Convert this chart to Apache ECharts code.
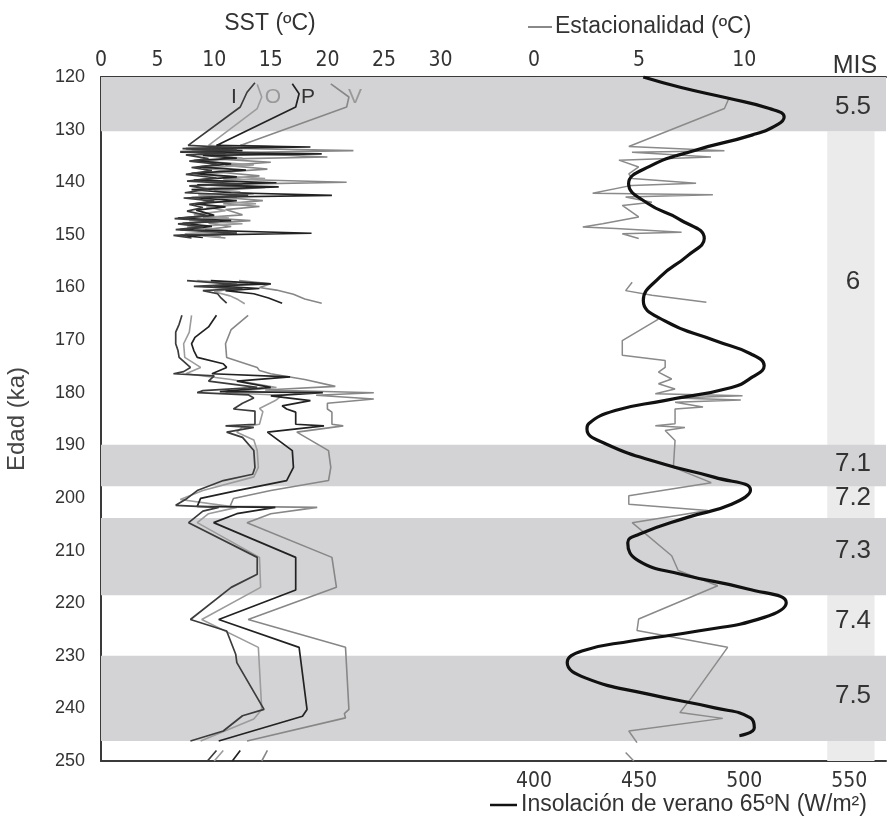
<!DOCTYPE html>
<html>
<head>
<meta charset="utf-8">
<script src="https://cdn.jsdelivr.net/npm/echarts@6/dist/echarts.min.js"></script>
<style>
  html, body { margin: 0; padding: 0; background: #fff; }
  #chart { width: 889px; height: 821px; }
</style>
</head>
<body>
<div id="chart"></div>
<script>
// 数据: [edad ka, valor], null = corte de la serie
var ageTicks = [120, 130, 140, 150, 160, 170, 180, 190, 200, 210, 220, 230, 240, 250]

var sstI = [
  [121.1, 13.6], [122.9, 12.9], [125.7, 12.3], [133.0, 7.7], [133.4, 11.5], [133.6, 7.2], [133.9, 12], [134.2, 7.0],
  [134.5, 11], [134.8, 7.5], [135.5, 9.5], [136.0, 7.8], [136.6, 10.5], [137.2, 8.0], [137.8, 9.8], [138.5, 7.5],
  [139.2, 10.2], [139.8, 7.6], [140.3, 12.5], [140.7, 7.8], [141.3, 9.5], [142.0, 7.4], [142.5, 13.0], [143.0, 7.3],
  [143.6, 10.0], [144.2, 7.8], [144.8, 9.0], [145.5, 7.6], [146.4, 9.5], [146.9, 6.5], [147.4, 10.5], [147.9, 6.8],
  [148.5, 9.0], [149.0, 6.6], [149.7, 12.0], [150.1, 6.4], [150.6, 8.0],
  null,
  [158.7, 7.6], [159.4, 12], [159.8, 8.2], [160.2, 12.5], [160.6, 9], [161.2, 10.3], [162, 10.6], [163, 11.1],
  null,
  [165.3, 7.15], [167, 6.9], [168.5, 6.6], [170.7, 6.6], [172, 6.8], [173.3, 6.9], [175.2, 7.9], [176.0, 7.3],
  [176.4, 6.4], [176.8, 10], [177.8, 9.5], [179, 13.8], [179.6, 9], [180.0, 8.5], [180.4, 13.0], [181.0, 13.5],
  [182, 12.5], [183.1, 11.7], [183.5, 13.6], [186, 13.6], [186.3, 11], [186.6, 13.5], [187.5, 11.1], [188.5, 12.5],
  [191, 13.5], [194.2, 13.6], [195.5, 13.4], [196.7, 10.8], [198.6, 8.5], [200.1, 7.6], [201.4, 6.6], [201.8, 10.4],
  [202.5, 9], [204.7, 7.74], [211.3, 13.8], [214.5, 13.8], [217, 11.5], [223.1, 7.9], [225.3, 11.1], [229.7, 11.9],
  [231.3, 12.0], [240.2, 14.4], [241.4, 12.5], [244.3, 10.8], [246.2, 7.9],
  null,
  [248, 10.2], [250, 9.4]
]

var sstO = [
  [121.4, 13.8], [123.8, 14.2], [126, 13.8], [133, 9.5], [133.5, 13], [133.8, 8], [134.3, 14], [134.7, 8.5],
  [135.4, 12.5], [136, 9], [136.7, 13.5], [137.3, 9], [138, 11.5], [138.6, 8.8], [139.3, 14.5], [139.9, 9.2],
  [140.6, 13], [141.2, 9], [141.8, 12.3], [142.4, 8.6], [142.9, 12], [143.5, 9], [144.1, 13.7], [144.7, 9.3],
  [145.4, 11], [146.2, 8.2], [146.8, 11.3], [147.3, 7.8], [147.9, 12.5], [148.5, 7.6], [149.2, 11.2], [149.8, 7.4],
  [150.4, 10.6],
  null,
  [158.7, 8.5], [159.3, 13], [159.8, 9], [160.3, 11.5], [160.8, 10], [161.6, 11.4], [162.3, 12.1], [163.1, 12.7],
  null,
  [165.3, 8.0], [168.5, 7.8], [170.7, 7.3], [173.3, 7.4], [175.2, 8.8], [176.4, 7.5], [177.5, 11.5], [179, 15.5],
  [180, 11], [180.5, 16], [181.5, 15.4], [183, 14], [183.6, 14.3], [186, 14.0], [186.5, 12.5], [187.5, 12],
  [189, 13.5], [191, 13.8], [194.2, 13.9], [196, 13.5], [198.6, 9], [200.3, 7.0], [201.8, 12.0], [203, 9.5],
  [204.7, 8.5], [211.3, 14.0], [217, 14.1], [223.1, 8.9], [228.4, 13.9], [240.2, 14.2], [242, 13.5], [246.2, 8.8],
  null,
  [248, 10.8], [250, 10.0]
]

var sstP = [
  [121.3, 16.9], [123.2, 17.5], [125.7, 17.2], [133, 10.2], [133.3, 18.5], [133.6, 7.5], [134.0, 12.5], [134.3, 7.0],
  [134.6, 19.5], [134.9, 9], [135.4, 12], [135.9, 8.2], [136.5, 11.5], [137.1, 8.5], [137.7, 12.8], [138.3, 8],
  [139.0, 12], [139.6, 8.2], [140.1, 15.5], [140.5, 8.5], [140.9, 15.7], [141.4, 8], [142.0, 11.5], [142.5, 20.4],
  [142.9, 8], [143.5, 12], [144.1, 8.3], [144.7, 11], [145.3, 8.4], [146.3, 10], [146.8, 6.8], [147.3, 11.5],
  [147.8, 7.2], [148.4, 9.8], [149.0, 7.0], [149.7, 18.6], [150.1, 7], [150.5, 9],
  null,
  [158.7, 9.7], [159.3, 15], [159.7, 10], [160.2, 14], [160.6, 11], [161.2, 13.5], [162, 14.8], [163, 16],
  null,
  [165.3, 10.2], [167.5, 9.5], [169.5, 8.3], [170.7, 8.0], [172, 8.2], [173.3, 8.5], [174.5, 10.8], [175.2, 11.1],
  [176.4, 9.8], [177, 16.7], [177.8, 12], [179, 15], [179.8, 10.5], [180.0, 19.6], [180.6, 15], [181.5, 18.5],
  [182.5, 16.0], [183.1, 16.4], [183.7, 17.2], [186, 17.2], [186.3, 19.7], [187.5, 14.7], [191, 16.9], [194.2, 17.0],
  [196.7, 16.4], [198.6, 12], [200.1, 8.8], [201.6, 8.5], [201.8, 15.4], [203, 12], [204.7, 9.95], [211.3, 17.2],
  [217.5, 17.2], [223.1, 10.4], [228.4, 17.5], [240.2, 18.2], [241.5, 17.8], [241.8, 17.9], [246.2, 10.4],
  null,
  [248, 12.3], [250, 11.6]
]

var sstV = [
  [121.3, 20.3], [123.8, 21.9], [125.7, 21.7], [133, 12.3], [133.3, 16], [133.5, 10], [134.0, 22.3], [134.4, 11],
  [135.2, 20], [135.6, 10.5], [136.2, 15], [136.8, 11], [137.5, 14.7], [138.1, 10.5], [138.8, 14], [139.4, 10.8],
  [140.0, 21.7], [140.4, 11], [141.0, 14.5], [141.6, 10], [142.2, 13.5], [142.8, 10.4], [143.5, 14.3], [144.1, 10.8],
  [144.6, 14], [145.2, 11], [146.2, 12.5], [146.7, 9], [147.3, 13.2], [147.8, 9.5], [148.4, 11.5], [149.0, 9.2],
  [149.6, 12], [150.2, 9], [150.6, 11],
  null,
  [158.7, 12.2], [159.3, 15], [160, 14], [160.5, 15.5], [161.3, 17], [162.2, 18], [163, 19.5],
  null,
  [165.3, 13.0], [168, 11.5], [170.7, 11.0], [173.3, 11.1], [175.2, 13.8], [175.8, 14], [176.4, 15], [177.5, 18],
  [178.8, 20.7], [179.5, 14.5], [180.0, 24.1], [180.5, 19], [181.2, 24.1], [182, 20], [183.1, 20.0], [183.7, 20.4],
  [186, 20.4], [186.3, 21.4], [187.5, 17.3], [191, 20.1], [194.2, 20.3], [196.7, 20.1], [198.6, 15], [200.1, 11.7],
  [201.6, 11.4], [201.8, 19.1], [203, 15], [204.7, 12.9], [211.3, 20.4], [217, 20.8], [223.1, 13.0], [228.4, 21.6],
  [240.2, 21.9], [241, 21.5], [241.8, 21.6], [246.2, 12.9],
  null,
  [248, 14.7], [250, 14.2]
]

var seasonality = [
  [123.9, 9.29], [126, 9.06], [133.2, 4.51], [134, 9.06], [134.3, 4.66], [135.2, 8.42], [135.8, 4.04], [137.1, 4.98],
  [138.4, 4.51], [139.3, 4.67], [140.2, 7.71], [140.6, 4.65], [142.1, 2.79], [142.4, 8.51], [142.8, 4.36], [143.8, 5.61],
  [144.4, 4.2], [146.6, 4.98], [147.9, 3.26], [148.5, 2.32], [148.8, 3.89], [149.5, 7.02], [149.8, 4.2], [150.7, 4.98],
  null,
  [159.0, 4.67], [160.6, 4.36], [161.5, 5.61], [162.8, 8.2],
  null,
  [166, 5.92], [170.1, 4.2], [172.9, 4.2], [173.9, 6.24], [175.2, 6.24], [176.1, 5.92], [177.4, 6.55], [178.3, 5.92],
  [179.3, 6.71], [180.2, 5.77], [180.6, 9.92], [181.0, 6.71], [181.4, 9.84], [181.8, 6.71], [182.7, 8.04], [183.1, 6.71],
  [185.9, 6.71], [186.3, 5.77], [186.6, 7.18], [187.2, 6.24], [189.1, 6.71], [194.2, 6.63], [197.1, 8.43], [199.6, 4.51],
  [201.2, 4.51], [202.4, 8.27], [204.7, 4.67], [211, 6.55], [213.8, 6.86], [216.7, 8.74], [223, 4.98], [225.2, 4.9],
  [228.4, 9.21], [238, 7.49], [240.8, 6.94], [241.9, 8.98], [244.3, 4.51], [246.5, 4.9],
  null,
  [248.4, 4.36], [250, 4.75]
]

var insolation = [
  [120, 452], [122, 470], [124, 492], [126, 512], [127.6, 519], [129, 516], [131, 504], [134, 476], [137, 455],
  [140.3, 445], [144, 454], [147, 469], [150.7, 481], [154, 473], [158, 460], [162.5, 452], [166.3, 462],
  [170.1, 486], [172.6, 503], [174.9, 509.5], [177, 504], [179, 494], [181.5, 462], [183.4, 438.6], [185.9, 426],
  [186.9, 425.2], [189.7, 434], [193.6, 462], [196.1, 486], [198.5, 503], [201.2, 494], [203.7, 473], [206.9, 450],
  [208.5, 444.6], [211.9, 449.6], [214.5, 470], [217.3, 501.7], [219.9, 520], [222.7, 509.5], [225.3, 478],
  [227.2, 446.5], [229.1, 422.8], [231.3, 415.8], [234.2, 424.4], [237.3, 454.4], [239.9, 486], [241.8, 503],
  [243.7, 504.8], [245.2, 497.7]
]

// estadios isotópicos marinos (MIS)
var misBands = [[120, 130.3], [189.9, 197.8], [203.8, 218.5], [230, 246.2]]
var misLabels = ['5.5', '6', '7.1', '7.2', '7.3', '7.4', '7.5']
var misLabelAges = [125.7, 159, 193.5, 200, 210, 223.4, 237.7]
var curveNames = ['I', 'O', 'P', 'V']

var FONT = "'Liberation Sans', Arial, sans-serif"
var NARROW = "'Liberation Sans Narrow', 'Arial Narrow', 'DejaVu Sans Condensed', 'Liberation Sans', sans-serif"
var TXT = '#333'

function toXY(pairs) {
  return pairs.map(function (p) { return p ? [p[1], p[0]] : ['-', '-'] })
}

var myChart = echarts.init(document.getElementById('chart'))

// bordes enteros para que las bandas no dejen costura
var G_TOP = 77, G_BOTTOM = 60, G_LEFT = 101, G_SPLIT = 534, W = 889
var SST_PX = 11.32, SEAS_PX = 21.2, INS_PX = 2.12

var yBase = {
  type: 'value', inverse: true, min: 120, max: 250, interval: 10,
  splitLine: { show: false }, axisTick: { show: false }
}

var bandData = misBands.map(function (b) {
  return [{ yAxis: b[0] }, { yAxis: b[1] }]
})

var option = {
  animation: false,
  backgroundColor: '#fff',
  textStyle: { fontFamily: FONT },
  grid: [
    { left: G_LEFT, top: G_TOP, width: G_SPLIT - G_LEFT, bottom: G_BOTTOM },
    { left: G_SPLIT, top: G_TOP, width: W - G_SPLIT, bottom: G_BOTTOM }
  ],
  xAxis: [
    {
      gridIndex: 0, type: 'value', position: 'top', min: 0, max: (G_SPLIT - G_LEFT) / SST_PX, interval: 5,
      splitLine: { show: false }, axisTick: { show: false },
      axisLine: { lineStyle: { color: '#3a3a3a', width: 2 } },
      axisLabel: {
        margin: 6, color: TXT, fontSize: 21, fontFamily: NARROW,
        formatter: function (v) { return v <= 30 && v % 5 === 0 ? String(v) : '' }
      }
    },
    {
      gridIndex: 0, type: 'value', position: 'bottom', min: 0, max: (G_SPLIT - G_LEFT) / SST_PX,
      splitLine: { show: false }, axisTick: { show: false }, axisLabel: { show: false },
      axisLine: { lineStyle: { color: '#3a3a3a', width: 2 } }
    },
    {
      gridIndex: 1, type: 'value', position: 'top', min: 0, max: (W - G_SPLIT) / SEAS_PX, interval: 5,
      splitLine: { show: false }, axisTick: { show: false },
      axisLine: { lineStyle: { color: '#3a3a3a', width: 2 } },
      axisLabel: {
        margin: 6, color: TXT, fontSize: 21, fontFamily: NARROW,
        formatter: function (v) { return v <= 10 && v % 5 === 0 ? String(v) : '' }
      }
    },
    {
      gridIndex: 1, type: 'value', position: 'bottom', min: 400, max: 400 + (W - G_SPLIT) / INS_PX, interval: 50,
      splitLine: { show: false }, axisTick: { show: false },
      axisLine: { lineStyle: { color: '#3a3a3a', width: 2 } },
      axisLabel: {
        margin: 10, color: TXT, fontSize: 21, fontFamily: NARROW,
        formatter: function (v) { return v <= 550 && v % 50 === 0 ? String(v) : '' }
      }
    }
  ],
  yAxis: [
    echarts.util.merge({
      gridIndex: 0,
      name: 'Edad (ka)', nameLocation: 'middle', nameGap: 72,
      nameTextStyle: { color: '#444', fontSize: 24, fontFamily: FONT },
      axisLine: { show: true, lineStyle: { color: '#3a3a3a', width: 2 } },
      axisLabel: {
        color: TXT, fontSize: 18, margin: 16,
        formatter: function (v) { return ageTicks.indexOf(v) >= 0 ? String(v) : '' }
      }
    }, yBase, true),
    echarts.util.merge({
      gridIndex: 1, axisLine: { show: false }, axisLabel: { show: false }
    }, yBase, true)
  ],
  series: [
    {
      type: 'line', xAxisIndex: 0, yAxisIndex: 0, data: [], silent: true, z: 1,
      markArea: { silent: true, itemStyle: { color: '#d3d3d5' }, data: bandData }
    },
    {
      type: 'line', xAxisIndex: 3, yAxisIndex: 1, data: [], silent: true, z: 1,
      markArea: {
        silent: true, itemStyle: { color: '#d3d3d5' },
        data: [[{ xAxis: 539.5, yAxis: 130.3, itemStyle: { color: '#ebebeb' } }, { xAxis: 562, yAxis: 250 }]].concat(bandData)
      }
    },
    {
      name: 'V', type: 'line', xAxisIndex: 0, yAxisIndex: 0, data: toXY(sstV), z: 3,
      symbol: 'none', lineStyle: { color: '#878787', width: 1.6 }
    },
    {
      name: 'O', type: 'line', xAxisIndex: 0, yAxisIndex: 0, data: toXY(sstO), z: 3,
      symbol: 'none', lineStyle: { color: '#9c9c9c', width: 1.6 }
    },
    {
      name: 'P', type: 'line', xAxisIndex: 0, yAxisIndex: 0, data: toXY(sstP), z: 4,
      symbol: 'none', lineStyle: { color: '#222', width: 1.7 }
    },
    {
      name: 'I', type: 'line', xAxisIndex: 0, yAxisIndex: 0, data: toXY(sstI), z: 4,
      symbol: 'none', lineStyle: { color: '#3c3c3c', width: 1.7 }
    },
    {
      name: 'Estacionalidad', type: 'line', xAxisIndex: 2, yAxisIndex: 1, data: toXY(seasonality), z: 3,
      symbol: 'none', lineStyle: { color: '#8a8a8a', width: 1.5 }
    },
    {
      name: 'Insolación', type: 'line', xAxisIndex: 3, yAxisIndex: 1, data: toXY(insolation), z: 5,
      symbol: 'none', smooth: 0.5, lineStyle: { color: '#111', width: 3.2 }
    }
  ],
  graphic: []
}

myChart.setOption(option)

// textos: títulos, etiquetas de curvas y MIS
var g = []
g.push({ type: 'text', x: 270, y: 24, style: { text: 'SST (ºC)', font: '23px ' + FONT, fill: TXT, textAlign: 'center', textVerticalAlign: 'middle' } })
g.push({ type: 'line', shape: { x1: 528, y1: 27, x2: 552, y2: 27 }, style: { stroke: '#888', lineWidth: 2 } })
g.push({ type: 'text', x: 555, y: 27, style: { text: 'Estacionalidad (ºC)', font: '23px ' + FONT, fill: TXT, textAlign: 'left', textVerticalAlign: 'middle' } })
g.push({ type: 'text', x: 855, y: 66, style: { text: 'MIS', font: '25px ' + FONT, fill: TXT, textAlign: 'center', textVerticalAlign: 'middle' } })
g.push({ type: 'line', shape: { x1: 490, y1: 805, x2: 517, y2: 805 }, style: { stroke: '#111', lineWidth: 2.5 } })
g.push({ type: 'text', x: 521, y: 805, style: { text: 'Insolación de verano 65ºN (W/m²)', font: '23px ' + FONT, fill: TXT, textAlign: 'left', textVerticalAlign: 'middle' } })

var curveX = [234, 273, 308, 355]
var curveColor = ['#333', '#999', '#333', '#999']
curveNames.forEach(function (n, i) {
  g.push({ type: 'text', x: curveX[i], y: 97, z: 10, style: { text: n, font: '21px ' + FONT, fill: curveColor[i], textAlign: 'center', textVerticalAlign: 'middle' } })
})

misLabels.forEach(function (t, i) {
  var p = myChart.convertToPixel({ yAxisIndex: 1 }, misLabelAges[i])
  g.push({ type: 'text', x: 853, y: p, z: 10, style: { text: t, font: '26px ' + FONT, fill: TXT, textAlign: 'center', textVerticalAlign: 'middle' } })
})

myChart.setOption({ graphic: g })

window.addEventListener('resize', function () {
  myChart.resize()
})
</script>
</body>
</html>
